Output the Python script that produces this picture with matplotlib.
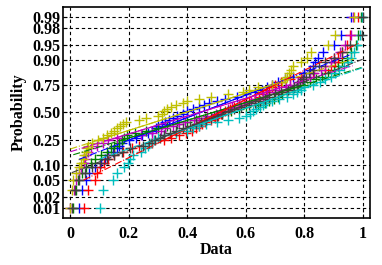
import numpy as np
import matplotlib
matplotlib.use("Agg")
import matplotlib.pyplot as plt
from statistics import NormalDist

# sorted samples, one list per column (50 values each)
blue = [0.030, 0.040, 0.055, 0.065, 0.085, 0.105, 0.118, 0.130, 0.145, 0.160,
        0.168, 0.178, 0.200, 0.225, 0.245, 0.265, 0.280, 0.292, 0.300, 0.312,
        0.325, 0.338, 0.350, 0.365, 0.385, 0.398, 0.420, 0.440, 0.458, 0.475,
        0.500, 0.530, 0.570, 0.600, 0.630, 0.655, 0.672, 0.690, 0.710, 0.735,
        0.760, 0.800, 0.820, 0.830, 0.835, 0.845, 0.865, 0.900, 0.925, 0.960]
green = [0.010, 0.018, 0.025, 0.040, 0.055, 0.070, 0.085, 0.105, 0.125, 0.140,
         0.150, 0.165, 0.175, 0.185, 0.195, 0.220, 0.260, 0.300, 0.330, 0.365,
         0.400, 0.430, 0.460, 0.490, 0.520, 0.550, 0.575, 0.600, 0.640, 0.665,
         0.680, 0.695, 0.710, 0.725, 0.740, 0.760, 0.780, 0.800, 0.820, 0.840,
         0.860, 0.880, 0.900, 0.915, 0.930, 0.945, 0.960, 0.975, 0.985, 0.995]
red = [0.045, 0.060, 0.085, 0.092, 0.100, 0.115, 0.130, 0.150, 0.180, 0.210,
       0.235, 0.280, 0.320, 0.345, 0.370, 0.395, 0.415, 0.430, 0.440, 0.450,
       0.460, 0.480, 0.495, 0.505, 0.515, 0.530, 0.545, 0.560, 0.575, 0.595,
       0.610, 0.630, 0.645, 0.660, 0.670, 0.680, 0.690, 0.700, 0.720, 0.750,
       0.790, 0.830, 0.870, 0.890, 0.905, 0.915, 0.930, 0.945, 0.955, 0.985]
cyan = [0.100, 0.110, 0.145, 0.160, 0.185, 0.198, 0.205, 0.215, 0.240, 0.255,
        0.265, 0.275, 0.285, 0.300, 0.320, 0.360, 0.400, 0.420, 0.440, 0.465,
        0.500, 0.540, 0.575, 0.600, 0.615, 0.625, 0.635, 0.650, 0.660, 0.670,
        0.690, 0.715, 0.740, 0.760, 0.775, 0.790, 0.800, 0.830, 0.855, 0.870,
        0.890, 0.905, 0.920, 0.935, 0.950, 0.960, 0.970, 0.980, 0.990, 0.998]
magenta = [0.000, 0.012, 0.020, 0.030, 0.038, 0.045, 0.050, 0.055, 0.060, 0.070,
           0.090, 0.110, 0.130, 0.160, 0.240, 0.280, 0.310, 0.325, 0.350, 0.372,
           0.392, 0.423, 0.441, 0.468, 0.497, 0.512, 0.538, 0.552, 0.578, 0.593,
           0.618, 0.632, 0.657, 0.671, 0.698, 0.712, 0.738, 0.751, 0.778, 0.792,
           0.818, 0.832, 0.858, 0.871, 0.892, 0.903, 0.921, 0.938, 0.958, 0.965]
yellow = [0.000, 0.006, 0.008, 0.020, 0.028, 0.035, 0.044, 0.048, 0.052, 0.056,
          0.060, 0.075, 0.095, 0.112, 0.125, 0.140, 0.150, 0.160, 0.170, 0.180,
          0.190, 0.235, 0.260, 0.300, 0.312, 0.320, 0.330, 0.345, 0.360, 0.385,
          0.400, 0.440, 0.480, 0.540, 0.590, 0.610, 0.640, 0.690, 0.725, 0.735,
          0.742, 0.748, 0.755, 0.760, 0.790, 0.810, 0.822, 0.880, 0.905, 0.970]
gray = [0.005, 0.015, 0.028, 0.050, 0.075, 0.100, 0.125, 0.150, 0.175, 0.205,
        0.250, 0.270, 0.290, 0.305, 0.320, 0.340, 0.360, 0.385, 0.410, 0.430,
        0.445, 0.465, 0.480, 0.500, 0.520, 0.540, 0.560, 0.585, 0.610, 0.630,
        0.650, 0.665, 0.680, 0.700, 0.720, 0.745, 0.765, 0.775, 0.785, 0.795,
        0.805, 0.815, 0.830, 0.850, 0.870, 0.900, 0.930, 0.955, 0.997, 0.999]

series = [blue, green, red, cyan, magenta, yellow, gray]
colors = [(0, 0, 1), (0, 0.5, 0), (1, 0, 0), (0, 0.75, 0.75),
          (0.75, 0, 0.75), (0.75, 0.75, 0), (0.25, 0.25, 0.25)]

prob_ticks = [0.01, 0.02, 0.05, 0.10, 0.25, 0.50, 0.75, 0.90, 0.95, 0.98, 0.99]
prob_labels = ['0.01', '0.02', '0.05', '0.10', '0.25', '0.50',
               '0.75', '0.90', '0.95', '0.98', '0.99']
x_ticks = [0, 0.2, 0.4, 0.6, 0.8, 1]
x_labels = ['0', '0.2', '0.4', '0.6', '0.8', '1']

nd = NormalDist()

plt.rcParams['font.family'] = ['Liberation Serif', 'DejaVu Serif']
plt.rcParams['font.weight'] = 'bold'

fig = plt.figure(figsize=(3.82, 2.65), dpi=100)
ax = fig.add_axes([0.165, 0.177, 0.804, 0.797])

n = len(blue)
zq = np.array([nd.inv_cdf((i + 0.5) / n) for i in range(n)])
p1, p3 = nd.inv_cdf(0.25), nd.inv_cdf(0.75)

for vals, c in zip(series, colors):
    x = np.sort(np.array(vals))
    ax.plot(x, zq, '+', color=c, ms=6.5, mew=1.0, zorder=3)

for vals, c in zip(series, colors):
    x = np.sort(np.array(vals))
    q1 = np.percentile(x, 25, method='hazen')
    q3 = np.percentile(x, 75, method='hazen')
    slope = (p3 - p1) / (q3 - q1)
    cx, cy = (q1 + q3) / 2, (p1 + p3) / 2
    ax.plot([x.min(), x.max()],
            [cy + slope * (x.min() - cx), cy + slope * (x.max() - cx)],
            '-.', color=c, lw=0.8, zorder=4)
    ax.plot([q1, q3], [p1, p3], '-', color=c, lw=0.8, zorder=4)

ax.set_xlim(-0.025, 1.025)
lim = nd.inv_cdf(0.25 / n)
ax.set_ylim(lim, -lim)
ax.set_yticks([nd.inv_cdf(p) for p in prob_ticks])
ax.set_yticklabels(prob_labels)
ax.set_xticks(x_ticks)
ax.set_xticklabels(x_labels)
ax.tick_params(direction='in', length=3, width=0.8, labelsize=11.5)
ax.tick_params(axis='y', pad=2)
ax.tick_params(axis='x', pad=6)
ax.grid(True, color='k', linestyle=(0, (3, 2.5)), linewidth=0.8)
ax.set_axisbelow(True)
for s in ax.spines.values():
    s.set_linewidth(1.2)

ax.set_xlabel('Data', fontsize=11.5, fontweight='bold', labelpad=0)
ax.set_ylabel('Probability', fontsize=11.5, fontweight='bold', labelpad=4)

fig.savefig('out.png', dpi=100)
